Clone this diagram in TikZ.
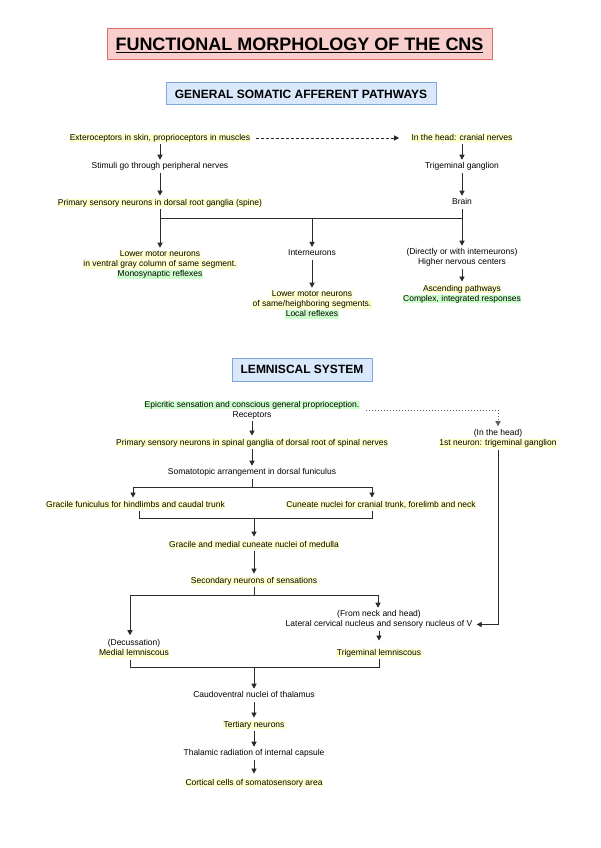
\documentclass[tikz,border=0pt]{standalone}
\usepackage{fontspec}
\setmainfont{Liberation Sans}
\usetikzlibrary{arrows.meta}
\definecolor{hly}{HTML}{FFFFCC}
\definecolor{hlg}{HTML}{CCFFCC}
\definecolor{tfill}{HTML}{F8CECC}
\definecolor{tdraw}{HTML}{E06B66}
\definecolor{bfill}{HTML}{DAE8FC}
\definecolor{bdraw}{HTML}{7EA6E0}
\definecolor{lncol}{HTML}{2B2B2B}
\newcommand\hy[1]{{\setlength{\fboxsep}{0.4pt}\colorbox{hly}{\rule[-2pt]{0pt}{6.7pt}#1}}}
\newcommand\hg[1]{{\setlength{\fboxsep}{0.4pt}\colorbox{hlg}{\rule[-2pt]{0pt}{6.7pt}#1}}}
\newcommand\hn[1]{\mbox{\kern0.4pt\rule[-2.4pt]{0pt}{7.5pt}#1\kern0.4pt}}
\newcommand\ttlul[1]{\setbox0\hbox{#1}\rlap{\smash{\rule[-2.8pt]{\wd0}{1.8pt}}}\box0}
\begin{document}
\begin{tikzpicture}[x=1pt,y=-1pt,
  txt/.style={font=\fontsize{8.5}{10}\selectfont, align=center, inner sep=0pt, outer sep=0pt, text=black},
  conn/.style={draw=lncol, line width=0.9pt},
  arr/.style={conn, -{Triangle[length=5pt,width=5.2pt]}, shorten <=2pt, shorten >=3pt},
  dasharr/.style={arr, dash pattern=on 3pt off 2pt},
  dotarr/.style={arr, dash pattern=on 1.5pt off 1.5pt, draw=lncol!75},
  titlebox/.style={draw=tdraw, fill=tfill, line width=1pt, minimum width=385pt, minimum height=31pt, inner sep=0pt, font=\bfseries\fontsize{18}{20}\selectfont},
  secbox/.style={draw=bdraw, fill=bfill, line width=1pt, inner sep=0pt, font=\bfseries\fontsize{12}{14}\selectfont}]
\useasboundingbox (0,0) rectangle (600,848);
\fill[white] (0,0) rectangle (600,848);

% headings
\node[titlebox] (title) at (299.5,44.5) {\ttlul{FUNCTIONAL MORPHOLOGY OF THE CNS}};
\node[secbox, minimum width=270pt, minimum height=22pt] (gsa) at (301,94) {GENERAL SOMATIC AFFERENT PATHWAYS};

% section 1
\node[txt] (ext) at (160,138) {\hy{Exteroceptors in skin, proprioceptors in muscles}};
\node[txt] (headA) at (462,138) {\hy{In the head: cranial nerves}};
\node[txt] (stim) at (160,167) {\hn{Stimuli go through peripheral nerves}};
\node[txt] (trig) at (462,167) {\hn{Trigeminal ganglion}};
\node[txt] (prim) at (160,203) {\hy{Primary sensory neurons in dorsal root ganglia (spine)}};
\node[txt] (brain) at (462,203) {\hn{Brain}};
\coordinate (j1) at (312,218);
\node[txt] (lmnA) at (160,265) {\hy{Lower motor neurons}\\\hy{in ventral gray column of same segment.}\\\hg{Monosynaptic reflexes}};
\node[txt] (inter) at (312,254) {\hn{Interneurons}};
\node[txt] (lmnB) at (312,305) {\hy{Lower motor neurons}\\\hy{of same/heighboring segments.}\\\hg{Local reflexes}};
\node[txt] (higher) at (462,258) {\hn{(Directly or with interneurons)}\\\hn{Higher nervous centers}};
\node[txt] (asc) at (462,294) {\hy{Ascending pathways}\\\hg{Complex, integrated responses}};

\draw[dasharr, shorten <=5pt, shorten >=12pt] (ext) -- (headA);
\draw[arr] (ext) -- (stim);
\draw[arr] (headA) -- (trig);
\draw[arr] (stim) -- (prim);
\draw[arr] (trig) -- (brain);
\draw[conn, shorten <=2pt, shorten >=2pt] (prim) -- (prim |- j1) -- (brain |- j1) -- (brain);
\draw[arr, shorten <=0pt] (prim |- j1) -- (lmnA);
\draw[arr, shorten <=0pt] (j1) -- (inter);
\draw[arr, shorten <=0pt] (brain |- j1) -- (higher);
\draw[arr] (inter) -- (lmnB);
\draw[arr] (higher) -- (asc);

% section 2
\node[secbox, minimum width=140pt, minimum height=23pt] (lem) at (302,369.5) {LEMNISCAL SYSTEM};
\node[txt] (epi) at (252,410) {\hg{Epicritic sensation and conscious general proprioception.}\\\hn{Receptors}};
\node[txt] (headB) at (498,438.5) {\hn{(In the head)}\\\hy{1st neuron: trigeminal ganglion}};
\node[txt] (prim2) at (252,443) {\hy{Primary sensory neurons in spinal ganglia of dorsal root of spinal nerves}};
\node[txt] (soma) at (252,473) {\hn{Somatotopic arrangement in dorsal funiculus}};
\coordinate (j2) at (252,487);
\coordinate (j2l) at (133,487);
\coordinate (j2r) at (372,487);
\node[txt] (grac) at (135.5,505) {\hy{Gracile funiculus for hindlimbs and caudal trunk}};
\node[txt] (cun) at (381,505) {\hy{Cuneate nuclei for cranial trunk, forelimb and neck}};
\coordinate (m2) at (254,518);
\coordinate (m2l) at (139,518);
\coordinate (m2r) at (372,518);
\node[txt] (med) at (254,545) {\hy{Gracile and medial cuneate nuclei of medulla}};
\node[txt] (sec) at (254,581) {\hy{Secondary neurons of sensations}};
\coordinate (j3) at (254,595);
\coordinate (j3l) at (130,595);
\coordinate (j3r) at (378,595);
\node[txt] (neck) at (379,620) {\hn{(From neck and head)}\\\hn{Lateral cervical nucleus and sensory nucleus of V}};
\node[txt] (dec) at (134,648.5) {\hn{(Decussation)}\\\hy{Medial lemniscous}};
\node[txt] (tri) at (379,653) {\hy{Trigeminal lemniscous}};
\coordinate (m3) at (254,667);
\coordinate (m3l) at (130,667);
\coordinate (m3r) at (379,667);
\node[txt] (caud) at (254,696) {\hn{Caudoventral nuclei of thalamus}};
\node[txt] (tert) at (254,725) {\hy{Tertiary neurons}};
\node[txt] (thal) at (254,754) {\hn{Thalamic radiation of internal capsule}};
\node[txt] (cort) at (254,783) {\hy{Cortical cells of somatosensory area}};

\draw[dotarr, shorten <=6pt, shorten >=3pt] (epi) -| (headB);
\draw[arr] (epi) -- (prim2);
\draw[arr] (prim2) -- (soma);
\draw[conn, shorten <=2pt] (soma) -- (j2);
\draw[conn] (j2l) -- (j2r);
\draw[arr, shorten <=0pt] (j2l) -- (j2l |- grac.north);
\draw[arr, shorten <=0pt] (j2r) -- (j2r |- cun.north);
\draw[conn, shorten <=1.5pt, shorten >=1.5pt] (m2l |- grac.south) -- (m2l) -- (m2r) -- (m2r |- cun.south);
\draw[arr, shorten <=0pt, shorten >=4pt] (m2) -- (med);
\draw[arr] (med) -- (sec);
\draw[conn, shorten <=2pt] (sec) -- (j3);
\draw[conn] (j3l) -- (j3r);
\draw[arr, shorten <=0pt, shorten >=4pt] (j3l) -- (j3l |- dec.north);
\draw[arr, shorten <=0pt] (j3r) -- (j3r |- neck.north);
\draw[arr, shorten <=2pt, shorten >=4pt] (headB) |- ([yshift=-4.5pt]neck.east);
\draw[arr, shorten >=8pt] (neck) -- (tri);
\draw[conn, shorten <=2pt, shorten >=2pt] (m3l |- dec.south) -- (m3l) -- (m3r) -- (m3r |- tri.south);
\draw[arr, shorten <=0pt] (m3) -- (caud);
\draw[arr] (caud) -- (tert);
\draw[arr] (tert) -- (thal);
\draw[arr, shorten >=5pt] (thal) -- (cort);
\end{tikzpicture}
\end{document}
